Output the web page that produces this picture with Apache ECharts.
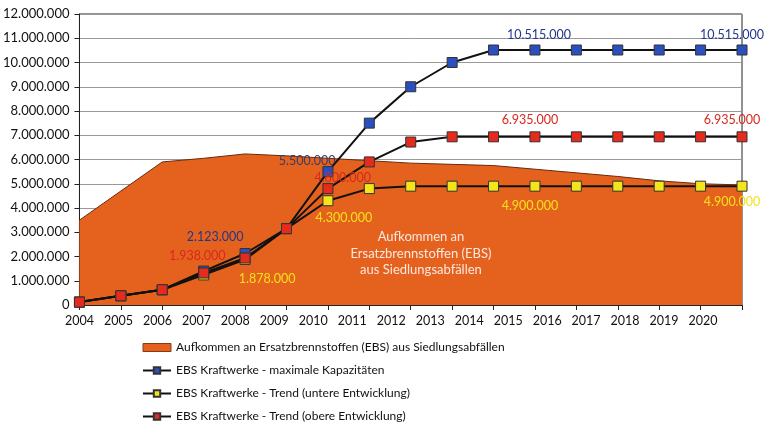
<!DOCTYPE html>
<html><head><meta charset="utf-8">
<script src="https://cdn.jsdelivr.net/npm/echarts@6/dist/echarts.min.js"></script>
<style>html,body{margin:0;padding:0;background:#fff}#c{width:766px;height:430px}</style>
</head><body><div id="c"></div>
<script>
const years = ['2004','2005','2006','2007','2008','2009','2010','2011','2012','2013','2014','2015','2016','2017','2018','2019','2020'];
const yTicks = [0,1000000,2000000,3000000,4000000,5000000,6000000,7000000,8000000,9000000,10000000,11000000,12000000];
const aufkommen = [3500000,4700000,5900000,6050000,6230000,6150000,6050000,5950000,5850000,5800000,5750000,5600000,5450000,5300000,5120000,5000000,4950000];
const maxKap = [120000,380000,630000,1400000,2123000,3150000,5500000,7500000,9000000,10000000,10515000,10515000,10515000,10515000,10515000,10515000,10515000];
const trendUnten = [120000,380000,630000,1240000,1878000,3150000,4300000,4800000,4900000,4900000,4900000,4900000,4900000,4900000,4900000,4900000,4900000];
const trendOben = [120000,380000,630000,1320000,1938000,3150000,4800000,5900000,6720000,6935000,6935000,6935000,6935000,6935000,6935000,6935000,6935000];
const names = ['Aufkommen an Ersatzbrennstoffen (EBS) aus Siedlungsabfällen','EBS Kraftwerke - maximale Kapazitäten','EBS Kraftwerke - Trend (untere Entwicklung)','EBS Kraftwerke - Trend (obere Entwicklung)'];
const centerText = ['Aufkommen an','Ersatzbrennstoffen (EBS)','aus Siedlungsabfällen'];

function fmt(v){ return String(v).replace(/\B(?=(\d{3})+(?!\d))/g,'.'); }
const FONT = 'Lato';
// label placement per series: index -> [position, offset, color]
const blueLab = {4:['top',[-30,0],'#23368a'],6:['left',[18,-11],'#3a3d66'],11:['top',[4,2],'#23368a'],16:['top',[-10,2],'#23368a']};
const redLab = {4:['left',[-9,-2]],6:['right',[-24,-11]],11:['top',[-5,0]],16:['top',[-10,0]]};
const yelLab = {4:['bottom',[22,3]],6:['bottom',[16,0]],11:['bottom',[-5,3]],16:['bottom',[-10,-1]]};
function mk(arr, labs, color){
  return arr.map((v,i)=>{
    const d={value:v};
    if(labs[i]) d.label={show:true,position:labs[i][0],offset:labs[i][1],formatter:fmt(v),color:labs[i][2]||color,fontFamily:FONT,fontSize:12.5};
    return d;
  });
}
const chart = echarts.init(document.getElementById('c'),null,{renderer:'canvas'});
const lineBase = (name,data,fill)=>({
  name, type:'line', data, xAxisIndex:0, symbol:'rect', symbolSize:10, z:3,
  lineStyle:{color:'#111',width:2}, itemStyle:{color:fill,borderColor:'#333',borderWidth:1},
  emphasis:{disabled:true}
});
chart.setOption({
  animation:false,
  grid:{left:78,right:24,top:14,bottom:125,show:true,borderColor:'#222',borderWidth:1},
  legend:{orient:'vertical',left:142,top:340,height:110,itemGap:8,itemWidth:28,itemHeight:8,padding:0,
    textStyle:{fontFamily:FONT,fontSize:12,color:'#111',lineHeight:15},
    data:[{name:names[0],icon:'rect',itemStyle:{color:'#E5621E',borderColor:'#8a3a12',borderWidth:1}},names[1],names[2],names[3]]},
  xAxis:[
    {type:'category',data:years,boundaryGap:false,axisLine:{lineStyle:{color:'#222'}},
     axisTick:{show:true,length:5,lineStyle:{color:'#222'}},axisLabel:{show:false},splitLine:{show:false}},
    {type:'category',position:'bottom',data:years.concat(['']),boundaryGap:false,axisLine:{show:false},axisTick:{show:false},
     axisLabel:{interval:0,color:'#111',fontFamily:FONT,fontSize:12.5,margin:9},splitLine:{show:false}}
  ],
  yAxis:{type:'value',min:yTicks[0],max:yTicks[yTicks.length-1],interval:1000000,
    axisLine:{show:true,lineStyle:{color:'#222'}},axisTick:{show:true,length:5,lineStyle:{color:'#222'}},
    splitLine:{lineStyle:{color:'#999',width:1}},
    axisLabel:{formatter:v=>fmt(v),color:'#111',fontFamily:FONT,fontSize:13,margin:10}},
  graphic:[{type:'text',x:421,y:229,z:10,
    style:{text:centerText.join('\n'),fill:'#fde7df',font:'13px Lato',textAlign:'center',lineHeight:16.5}}],
  series:[
    {name:names[0],type:'line',data:aufkommen,xAxisIndex:0,symbol:'none',z:1,
     lineStyle:{color:'#6a2a0c',width:1},areaStyle:{color:'#E5621E',opacity:1},itemStyle:{color:'#E5621E'},emphasis:{disabled:true}},
    lineBase(names[1],mk(maxKap,blueLab,'#23368a'),'#2a4fbf'),
    lineBase(names[2],mk(trendUnten,yelLab,'#f3e21a'),'#f4e41c'),
    lineBase(names[3],mk(trendOben,redLab,'#d8281e'),'#e52a1e')
  ]
});
</script></body></html>
